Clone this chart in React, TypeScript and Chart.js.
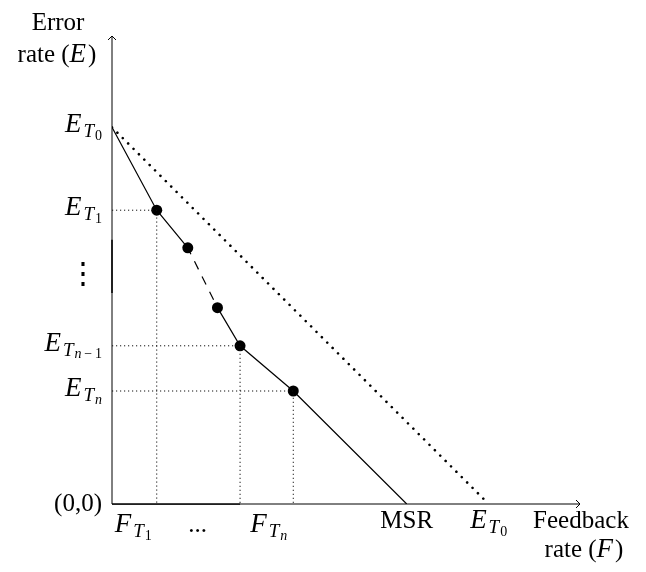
import React, { useEffect, useRef } from "react";
import { Chart, registerables } from "chart.js";

Chart.register(...registerables);

// ---------- data ----------
const AXIS_MAX = 9.94;
const E_T0 = 8; // error rate of T0 (intercept on both axes of the dotted line)
const MSR = 6.26; // x-intercept of the solid curve
const pointX = [0.95, 1.61, 2.24, 2.72, 3.85];
const pointY = [6.24, 5.44, 4.17, 3.36, 2.4];
const DASHED_FROM_INDEX = 2; // path segment between path points 2 and 3 is dashed
const guidePointIndex = [0, 3, 4]; // points with dotted guide lines to the axes

type Run = [string, number, number]; // text, level (0 base,1 sub,2 subsub), italic

const yTickValues = [E_T0, pointY[0], pointY[3], pointY[4]];
const yTickLabels: Run[][] = [
  [["E", 0, 1], ["T", 1, 1], ["0", 2, 0]],
  [["E", 0, 1], ["T", 1, 1], ["1", 2, 0]],
  [["E", 0, 1], ["T", 1, 1], ["n", 2, 1], ["\u2009\u2212\u20091", 2, 0]],
  [["E", 0, 1], ["T", 1, 1], ["n", 2, 1]],
];
const xTickValues = [0.45, 1.82, 3.33, MSR, E_T0];
const xTickLabels: Run[][] = [
  [["F", 0, 1], ["T", 1, 1], ["1", 2, 0]],
  [["...", 0, 0]],
  [["F", 0, 1], ["T", 1, 1], ["n", 2, 1]],
  [["MSR", 0, 0]],
  [["E", 0, 1], ["T", 1, 1], ["0", 2, 0]],
];
const xTickBaseline = [28, 28, 28, 24, 24];
const originLabel: Run[] = [["(0,0)", 0, 0]];
const yTitle: Run[][] = [
  [["Error", 0, 0]],
  [["rate (", 0, 0], ["E", 0, 1], [")", 0, 0]],
];
const xTitle: Run[][] = [
  [["Feedback", 0, 0]],
  [["rate (", 0, 0], ["F", 0, 1], [")", 0, 0]],
];

// ---------- drawing helpers ----------
const SERIF = '"Liberation Serif", "Times New Roman", serif';
const ROMAN_SIZE = 25;
const SIZES = [27, 19, 14];
const DY = [0, 5, 7.5];
function fontFor(level: number, italic: number) {
  const size = level === 0 && !italic ? ROMAN_SIZE : SIZES[level];
  return `${italic ? "italic " : ""}${size}px ${SERIF}`;
}
function drawRuns(
  ctx: CanvasRenderingContext2D,
  runs: Run[],
  x: number,
  y: number,
  align: "left" | "right" | "center"
) {
  const widths = runs.map(([t, l, it]) => {
    ctx.font = fontFor(l, it);
    return ctx.measureText(t).width + (it && l === 0 ? 2 : it && l === 1 ? 1 : 0);
  });
  const total = widths.reduce((a, b) => a + b, 0);
  let cx = align === "right" ? x - total : align === "center" ? x - total / 2 : x;
  ctx.textAlign = "left";
  ctx.textBaseline = "alphabetic";
  runs.forEach(([t, l, it], i) => {
    ctx.font = fontFor(l, it);
    ctx.fillText(t, cx, y + DY[l]);
    cx += widths[i];
  });
}

const axesPlugin = {
  id: "axesAndLabels",
  beforeDatasetsDraw(chart: any) {
    const ctx: CanvasRenderingContext2D = chart.ctx;
    const xs = chart.scales.x;
    const ys = chart.scales.y;
    const x0 = xs.getPixelForValue(0);
    const y0 = ys.getPixelForValue(0);
    const xEnd = xs.getPixelForValue(AXIS_MAX);
    const yEnd = ys.getPixelForValue(AXIS_MAX);
    ctx.save();
    ctx.strokeStyle = "#000";
    ctx.lineWidth = 1;
    ctx.beginPath();
    ctx.moveTo(x0, y0);
    ctx.lineTo(xEnd, y0);
    ctx.moveTo(x0, y0);
    ctx.lineTo(x0, yEnd);
    ctx.stroke();
    // slightly darker overlapping pieces
    ctx.lineWidth = 1.25;
    ctx.beginPath();
    ctx.moveTo(x0, y0);
    ctx.lineTo(xs.getPixelForValue(pointX[3]), y0);
    ctx.stroke();
    ctx.lineWidth = 1.5;
    ctx.beginPath();
    ctx.moveTo(x0, ys.getPixelForValue(5.61));
    ctx.lineTo(x0, ys.getPixelForValue(4.48));
    ctx.stroke();
    // arrow heads
    ctx.lineWidth = 1;
    ctx.beginPath();
    ctx.moveTo(xEnd - 4, y0 - 4);
    ctx.lineTo(xEnd, y0);
    ctx.lineTo(xEnd - 4, y0 + 4);
    ctx.moveTo(x0 - 4, yEnd + 4);
    ctx.lineTo(x0, yEnd);
    ctx.lineTo(x0 + 4, yEnd + 4);
    ctx.stroke();
    ctx.restore();
  },
  afterDraw(chart: any) {
    const ctx: CanvasRenderingContext2D = chart.ctx;
    const xs = chart.scales.x;
    const ys = chart.scales.y;
    const x0 = xs.getPixelForValue(0);
    const y0 = ys.getPixelForValue(0);
    const xEnd = xs.getPixelForValue(AXIS_MAX);
    ctx.save();
    ctx.fillStyle = "#000";
    yTickValues.forEach((v, i) => {
      drawRuns(ctx, yTickLabels[i], x0 - 10, ys.getPixelForValue(v) + 5, "right");
    });
    xTickValues.forEach((v, i) => {
      drawRuns(ctx, xTickLabels[i], xs.getPixelForValue(v), y0 + xTickBaseline[i], "center");
    });
    drawRuns(ctx, originLabel, x0 - 10, y0 + 7, "right");
    drawRuns(ctx, yTitle[0], x0 - 54, 30, "center");
    drawRuns(ctx, yTitle[1], x0 - 55, 62, "center");
    drawRuns(ctx, xTitle[0], xEnd + 1, y0 + 24, "center");
    drawRuns(ctx, xTitle[1], xEnd + 4, y0 + 53, "center");
    // vertical ellipsis between E_T1 and E_Tn-1
    ctx.font = `30px "DejaVu Serif", serif`;
    ctx.textAlign = "center";
    ctx.textBaseline = "middle";
    ctx.fillText("\u22EE", x0 - 29, ys.getPixelForValue(4.86));
    ctx.restore();
  },
};

export default function App() {
  const ref = useRef<HTMLCanvasElement>(null);
  useEffect(() => {
    if (!ref.current) return;
    const path = [
      { x: 0, y: E_T0 },
      ...pointX.map((x, i) => ({ x, y: pointY[i] })),
      { x: MSR, y: 0 },
    ];
    const radii = path.map((_, i) => (i === 0 || i === path.length - 1 ? 0 : 5.5));
    const guides = guidePointIndex.map((i) => ({
      data: [
        { x: 0, y: pointY[i] },
        { x: pointX[i], y: pointY[i] },
        { x: pointX[i], y: 0 },
      ],
      borderColor: "#111",
      borderWidth: 1,
      borderDash: [1.2, 2.8],
      pointRadius: 0,
      fill: false,
    }));
    const chart = new Chart(ref.current, {
      type: "line",
      data: {
        datasets: [
          ...guides,
          {
            data: [
              { x: 0, y: E_T0 },
              { x: E_T0, y: 0 },
            ],
            borderColor: "#000",
            borderWidth: 2.6,
            borderDash: [0.01, 7.6],
            borderCapStyle: "round",
            pointRadius: 0,
            fill: false,
          },
          {
            data: path,
            borderColor: "#000",
            borderWidth: 1.2,
            pointRadius: radii,
            pointBackgroundColor: "#000",
            pointBorderWidth: 0,
            fill: false,
            segment: {
              borderDash: (c: any) => (c.p0DataIndex === DASHED_FROM_INDEX ? [9, 8] : undefined),
              borderDashOffset: (c: any) => (c.p0DataIndex === DASHED_FROM_INDEX ? 2 : undefined),
            },
          },
        ] as any,
      },
      options: {
        responsive: false,
        animation: false,
        layout: { padding: { left: 112, right: 66, top: 36, bottom: 68 } },
        scales: {
          x: { type: "linear", min: 0, max: AXIS_MAX, display: false },
          y: { type: "linear", min: 0, max: AXIS_MAX, display: false },
        },
        plugins: { legend: { display: false }, tooltip: { enabled: false } },
        events: [],
      },
      plugins: [axesPlugin],
    });
    return () => chart.destroy();
  }, []);
  return (
    <div style={{ position: "fixed", left: 0, top: 0, width: 646, height: 572, background: "#fff" }}>
      <canvas ref={ref} width={646} height={572} style={{ display: "block" }} />
    </div>
  );
}
